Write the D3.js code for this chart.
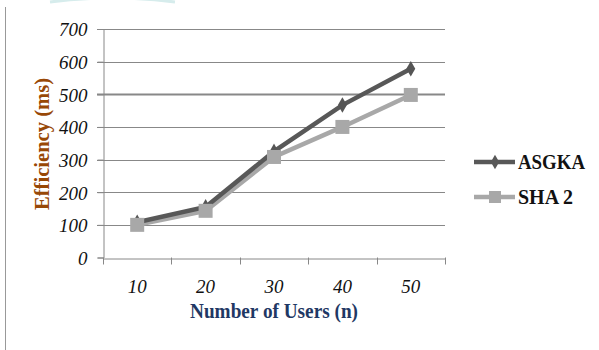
<!DOCTYPE html>
<html><head><meta charset="utf-8">
<script src="https://cdn.jsdelivr.net/npm/d3@7/dist/d3.min.js"></script>
<style>body{margin:0;background:#fff}svg{display:block}</style>
</head><body>
<script>
const categories = ["10","20","30","40","50"];
const asgka = [108,155,325,467,578];
const sha2 = [100,143,308,400,498];
const yTicks = [0,100,200,300,400,500,600,700];
const seriesNames = ["ASGKA","SHA 2"];

const W=599,H=350;
const svg=d3.select("body").append("svg").attr("width",W).attr("height",H);
const L=103,R=445,T=29,B=257.5;
const x=d3.scaleBand().domain(categories).range([L,R]);
const y=d3.scaleLinear().domain([0,700]).range([B,T]);

// faint top arc artifact & left border
svg.append("path").attr("d","M50,2 Q112,-6 175,2").attr("fill","none").attr("stroke","#d6ecec").attr("stroke-width",3);
svg.append("line").attr("x1",5.5).attr("x2",5.5).attr("y1",7).attr("y2",H).attr("stroke","#999").attr("stroke-width",1);

// gridlines
svg.append("g").selectAll("line").data(yTicks.filter(d=>d>0)).join("line")
 .attr("x1",L-6).attr("x2",R).attr("y1",d=>Math.round(y(d))+0.5).attr("y2",d=>Math.round(y(d))+0.5)
 .attr("stroke","#888").attr("stroke-width",d=>d===500?2:1);

// axes
const yAxis=svg.append("g").attr("transform",`translate(${L+0.5},0)`)
 .call(d3.axisLeft(y).tickValues(yTicks).tickSize(6).tickPadding(10));
yAxis.select(".domain").attr("stroke","#888");
yAxis.selectAll(".tick line").attr("stroke","#888");
yAxis.selectAll("text").attr("font-family","Liberation Serif").attr("font-style","italic").attr("font-size",19).attr("fill","#111").attr("dy","0.36em");

const xAxis=svg.append("g").attr("transform",`translate(0,${Math.round(B)+0.5})`)
 .call(d3.axisBottom(x).tickSize(0).tickPadding(21));
xAxis.select(".domain").attr("stroke","#888");
xAxis.selectAll("text").attr("font-family","Liberation Serif").attr("font-style","italic").attr("font-size",19).attr("fill","#111");
// boundary ticks
svg.append("g").selectAll("line").data(d3.range(categories.length+1)).join("line")
 .attr("x1",i=>Math.round(L+i*x.step())+0.5).attr("x2",i=>Math.round(L+i*x.step())+0.5)
 .attr("y1",B).attr("y2",B+7).attr("stroke","#888");

// titles
svg.append("text").attr("x",274).attr("y",317.5).attr("text-anchor","middle")
 .attr("font-family","Liberation Serif").attr("font-weight","bold").attr("font-size",20).attr("fill","#1F3864")
 .attr("textLength",168).attr("lengthAdjust","spacingAndGlyphs")
 .text("Number of Users (n)");
svg.append("text").attr("transform","translate(49,144) rotate(-90)").attr("text-anchor","middle")
 .attr("font-family","Liberation Serif").attr("font-weight","bold").attr("font-size",20).attr("fill","#984807")
 .attr("textLength",132).attr("lengthAdjust","spacingAndGlyphs")
 .text("Efficiency (ms)");

const cx=d=>x(d)+x.bandwidth()/2;
const line=d3.line().x(d=>cx(d[0])).y(d=>y(d[1]));
const diamond=d3.symbol().type(d3.symbolDiamond).size(70);

const sData=categories.map((c,i)=>[c,sha2[i]]);
const aData=categories.map((c,i)=>[c,asgka[i]]);
svg.append("path").datum(sData).attr("d",line).attr("fill","none").attr("stroke","#a8a8a8").attr("stroke-width",4.5);
svg.append("path").datum(aData).attr("d",line).attr("fill","none").attr("stroke","#585858").attr("stroke-width",4.5);
svg.append("g").selectAll("path").data(aData).join("path")
 .attr("d",diamond).attr("transform",d=>`translate(${cx(d[0])},${y(d[1])})`).attr("fill","#555");
svg.append("g").selectAll("rect").data(sData).join("rect")
 .attr("x",d=>cx(d[0])-7).attr("y",d=>y(d[1])-7).attr("width",14).attr("height",14).attr("fill","#a8a8a8");

// legend
const leg=[{n:seriesNames[0],c:"#585858",y:162,m:"d",w:67},{n:seriesNames[1],c:"#a8a8a8",y:197,m:"s",w:55}];
leg.forEach(l=>{
 svg.append("line").attr("x1",474).attr("x2",515).attr("y1",l.y).attr("y2",l.y).attr("stroke",l.c).attr("stroke-width",4.5);
 if(l.m==="d") svg.append("path").attr("d",d3.symbol().type(d3.symbolDiamond).size(60)).attr("transform",`translate(495,${l.y})`).attr("fill",l.c);
 else svg.append("rect").attr("x",489).attr("y",l.y-6).attr("width",12).attr("height",12).attr("fill",l.c);
 svg.append("text").attr("x",518).attr("y",l.y+6.5).attr("font-family","Liberation Serif").attr("font-weight","bold").attr("font-size",20).attr("fill","#111")
  .attr("textLength",l.w).attr("lengthAdjust","spacingAndGlyphs").text(l.n);
});
</script>
</body></html>
